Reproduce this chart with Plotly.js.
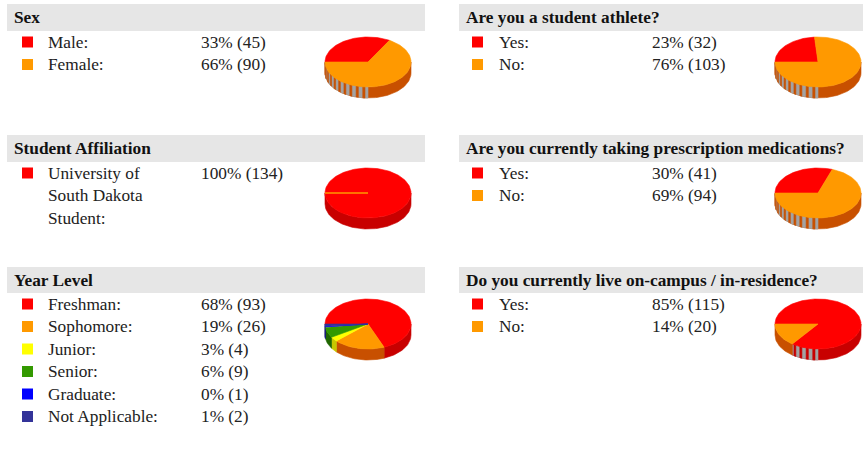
<!DOCTYPE html>
<html>
<head>
<meta charset="utf-8">
<script src="https://cdn.plot.ly/plotly-3.0.1.min.js"></script>
</head>
<body style="margin:0;padding:0;background:#fff;">
<div id="chart"></div>
<script>
// ---- data ----
const sexTitle = "Sex";
const sexLabels = ["Male:", "Female:"];
const sexCounts = [45, 90];
const sexPct = [33, 66];

const athleteTitle = "Are you a student athlete?";
const athleteLabels = ["Yes:", "No:"];
const athleteCounts = [32, 103];
const athletePct = [23, 76];

const affilTitle = "Student Affiliation";
const affilLabels = ["University of\nSouth Dakota\nStudent:"];
const affilCounts = [134];
const affilPct = [100];

const medsTitle = "Are you currently taking prescription medications?";
const medsLabels = ["Yes:", "No:"];
const medsCounts = [41, 94];
const medsPct = [30, 69];

const yearTitle = "Year Level";
const yearLabels = ["Freshman:", "Sophomore:", "Junior:", "Senior:", "Graduate:", "Not Applicable:"];
const yearCounts = [93, 26, 4, 9, 1, 2];
const yearPct = [68, 19, 3, 6, 0, 1];

const liveTitle = "Do you currently live on-campus / in-residence?";
const liveLabels = ["Yes:", "No:"];
const liveCounts = [115, 20];
const livePct = [85, 14];

// ---- styles ----
const topColors  = ["#ff0000", "#ff9900", "#ffff00", "#339900", "#0000ff", "#333399"];
const wallColors = ["#c80000", "#c85000", "#c8c800", "#1f6600", "#0000b0", "#22226a"];
const FONT = "Liberation Serif";
const FS = 17.3;

const cols = [
  {barX0: 7, barX1: 425, textX: 12, sqX: 22, labelX: 46, pctX: 199, cx: 368},
  {barX0: 459, barX1: 863, textX: 464, sqX: 472, labelX: 497, pctX: 650, cx: 818}
];
const rowsY = [{y0: 4, y1: 31}, {y0: 135, y1: 162}, {y0: 267, y1: 293}];

const panels = [
  {col: 0, row: 0, title: sexTitle, labels: sexLabels, counts: sexCounts, pct: sexPct, stripe: 1},
  {col: 1, row: 0, title: athleteTitle, labels: athleteLabels, counts: athleteCounts, pct: athletePct, stripe: 1},
  {col: 0, row: 1, title: affilTitle, labels: affilLabels, counts: affilCounts, pct: affilPct, stripe: -1, spoke: true},
  {col: 1, row: 1, title: medsTitle, labels: medsLabels, counts: medsCounts, pct: medsPct, stripe: 1},
  {col: 0, row: 2, title: yearTitle, labels: yearLabels, counts: yearCounts, pct: yearPct, stripe: -1},
  {col: 1, row: 2, title: liveTitle, labels: liveLabels, counts: liveCounts, pct: livePct, stripe: 0}
];

const traces = [];
const shapes = [];
const annotations = [];
const RX = 43, RY = 25, DEPTH = 11, ROWH = 22.5;

function pt(cx, cy, deg, dy) {
  const r = deg * Math.PI / 180;
  return [cx + RX * Math.cos(r), cy - RY * Math.sin(r) + (dy || 0)];
}
function wallPoly(cx, cy, a0, a1) {
  const xs = [], ys = [];
  const n = Math.max(2, Math.ceil((a0 - a1) / 2));
  for (let i = 0; i <= n; i++) { const p = pt(cx, cy, a0 - (a0 - a1) * i / n); xs.push(p[0]); ys.push(p[1]); }
  for (let i = n; i >= 0; i--) { const p = pt(cx, cy, a0 - (a0 - a1) * i / n, DEPTH); xs.push(p[0]); ys.push(p[1]); }
  xs.push(xs[0]); ys.push(ys[0]);
  return [xs, ys];
}
function addPoly(xs, ys, color) {
  traces.push({type: "scatter", mode: "lines", x: xs, y: ys, fill: "toself",
    fillcolor: color, line: {width: 0.6, color: color}, hoverinfo: "skip", showlegend: false});
}
function txt(x, y, s, color) {
  annotations.push({x: x, y: y, xref: "x", yref: "y", xanchor: "left", yanchor: "middle",
    text: s, showarrow: false, font: {family: FONT, size: FS, color: color}});
}

panels.forEach(p => {
  const c = cols[p.col], r = rowsY[p.row];
  shapes.push({type: "rect", xref: "x", yref: "y", x0: c.barX0, x1: c.barX1, y0: r.y0, y1: r.y1,
    fillcolor: "#e6e6e6", line: {width: 0}, layer: "below"});
  txt(c.textX, (r.y0 + r.y1) / 2, "<b>" + p.title + "</b>", "#111111");
  const firstY = r.y1 + 11;
  p.labels.forEach((lab, i) => {
    const y = firstY + i * ROWH;
    shapes.push({type: "rect", xref: "x", yref: "y", x0: c.sqX, x1: c.sqX + 11, y0: y - 5.5, y1: y + 5.5,
      fillcolor: topColors[i], line: {width: 0}});
    lab.split("\n").forEach((line, k) => txt(c.labelX, y + k * ROWH, line, "#222222"));
    txt(c.pctX, y, p.pct[i] + "% (" + p.counts[i] + ")", "#222222");
  });

  const cx = c.cx, cy = r.y1 + 31;
  const total = p.counts.reduce((a, b) => a + b, 0);
  let cum = 0;
  const spans = p.counts.map(v => { const s = 180 - 360 * cum / total; cum += v; return [s, 180 - 360 * cum / total]; });
  spans.forEach((s, i) => {
    const a0 = Math.min(s[0], 0), a1 = Math.max(s[1], -180);
    if (a0 > a1) {
      const w = wallPoly(cx, cy, a0, a1);
      addPoly(w[0], w[1], wallColors[i]);
      if (i === p.stripe) {
        const g0 = Math.min(a0, -90), g1 = a1;
        if (g0 > g1) {
          const gw = wallPoly(cx, cy, g0, g1);
          addPoly(gw[0], gw[1], "#a3a3a3");
          const sx = [], sy = [];
          for (let a = g0 - 4; a > g1 + 1; a -= 9) {
            const q = wallPoly(cx, cy, a, a - 3);
            sx.push(...q[0], null); sy.push(...q[1], null);
          }
          if (sx.length) addPoly(sx, sy, wallColors[i]);
        }
      }
    }
  });
  spans.forEach((s, i) => {
    const xs = [cx], ys = [cy];
    const n = Math.max(2, Math.ceil((s[0] - s[1]) / 2));
    for (let k = 0; k <= n; k++) { const q = pt(cx, cy, s[0] - (s[0] - s[1]) * k / n); xs.push(q[0]); ys.push(q[1]); }
    xs.push(cx); ys.push(cy);
    addPoly(xs, ys, topColors[i]);
  });
  if (p.spoke) {
    const q = pt(cx, cy, 180);
    traces.push({type: "scatter", mode: "lines", x: [cx, q[0]], y: [cy, q[1]], line: {width: 1.5, color: "#ff9900"},
      hoverinfo: "skip", showlegend: false});
  }
});

const layout = {
  width: 863, height: 463,
  margin: {l: 0, r: 0, t: 0, b: 0},
  paper_bgcolor: "#ffffff", plot_bgcolor: "#ffffff",
  font: {family: FONT},
  xaxis: {range: [0, 863], visible: false, fixedrange: true},
  yaxis: {range: [463, 0], visible: false, fixedrange: true},
  shapes: shapes, annotations: annotations, showlegend: false
};
Plotly.newPlot("chart", traces, layout, {displayModeBar: false});
</script>
</body>
</html>
